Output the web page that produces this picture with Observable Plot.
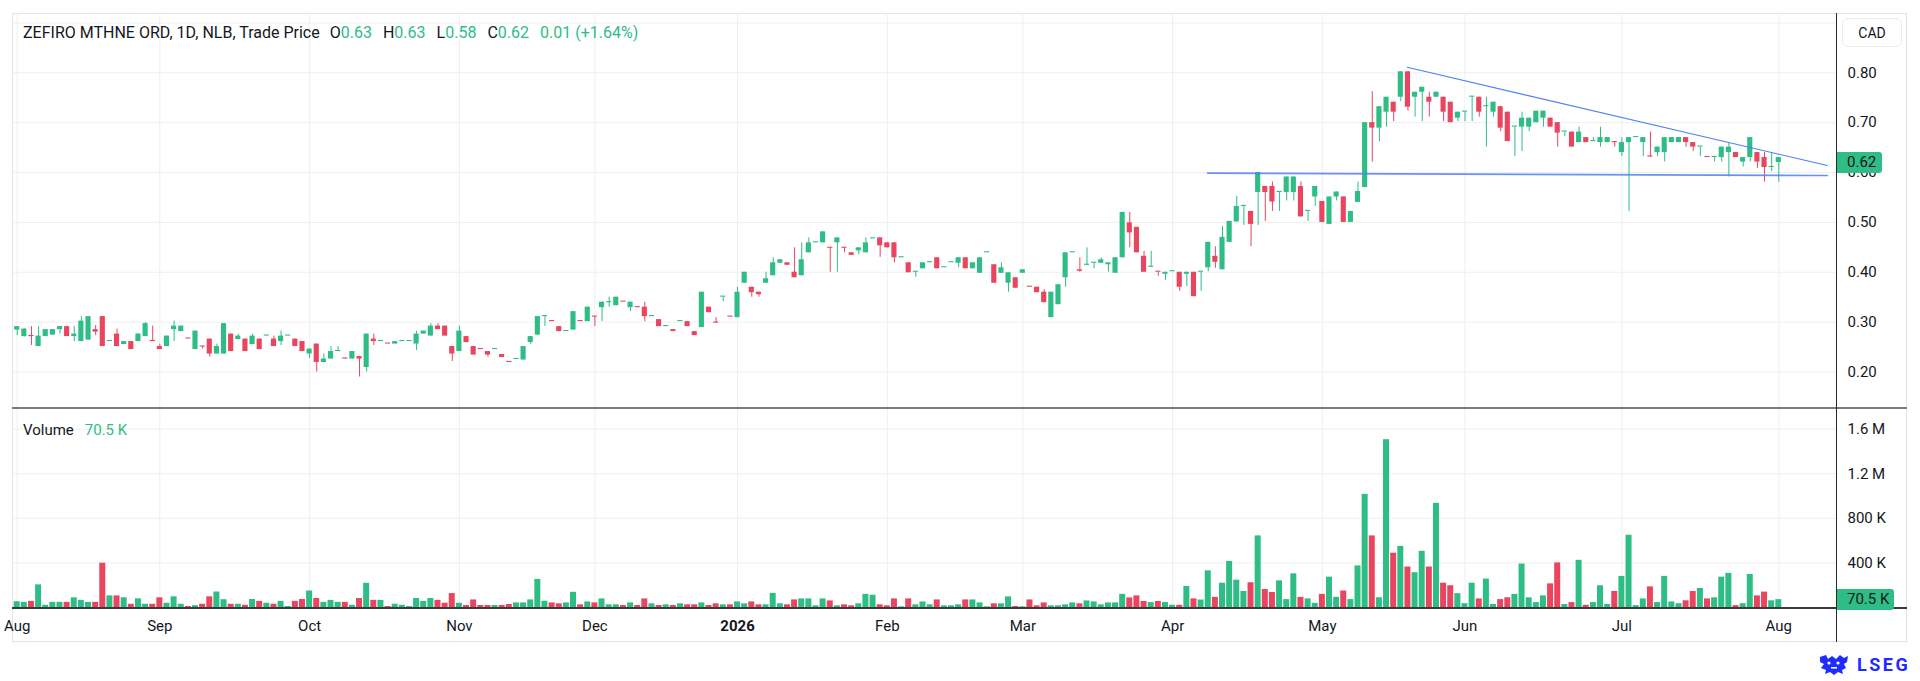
<!DOCTYPE html>
<html>
<head>
<meta charset="utf-8">
<script src="https://cdn.jsdelivr.net/npm/d3@7"></script>
<script src="https://cdn.jsdelivr.net/npm/@observablehq/plot@0.6"></script>
<style>
html,body{margin:0;padding:0;background:#fff;}
#root{position:relative;width:1920px;height:681px;overflow:hidden;font-family:Roboto,"Open Sans",sans-serif;color:#131722;}
.abs{position:absolute;}
svg{overflow:visible;}
</style>
</head>
<body>
<div id="root"></div>
<script>
// ---------------- DATA ----------------
const instrument = "ZEFIRO MTHNE ORD, 1D, NLB, Trade Price";
const currency = "CAD";
const closeBeforeFirst = 0.280;

// daily bars, Jul 31 2025 -> Jul 31 2026
const opens = [
 .291,.271,.272,.251,.271,.274,.285,.291,.271,.261,
 .264,.285,.311,.261,.276,.255,.261,.261,.271,.262,
 .251,.251,.285,.281,.266,.245,.251,.266,.236,.236,
 .276,.265,.266,.255,.266,.272,.266,.261,.272,.266,
 .261,.236,.256,.219,.226,.241,.227,.226,.231,.209,
 .266,.261,.256,.256,.261,.261,.256,.276,.272,.292,
 .292,.251,.241,.271,.234,.246,.241,.245,.235,.219,
 .225,.224,.259,.274,.311,.301,.291,.281,.284,.301,
 .301,.311,.329,.339,.333,.340,.329,.330,.330,.311,
 .305,.291,.285,.301,.301,.281,.289,.330,.299,.350,
 .310,.309,.378,.370,.360,.378,.393,.418,.419,.400,
 .393,.439,.459,.459,.449,.459,.449,.439,.443,.439,
 .467,.469,.459,.459,.429,.419,.400,.407,.419,.429,
 .409,.419,.418,.429,.407,.398,.439,.415,.409,.378,
 .389,.398,.370,.370,.360,.309,.335,.389,.439,.405,
 .414,.418,.425,.415,.398,.429,.499,.490,.432,.410,
 .400,.396,.401,.400,.396,.400,.400,.409,.432,.405,
 .460,.501,.532,.522,.560,.572,.572,.560,.560,.560,
 .572,.522,.551,.542,.496,.551,.551,.500,.540,.570,
 .700,.689,.721,.741,.751,.802,.751,.761,.751,.751,
 .751,.741,.709,.721,.751,.751,.732,.721,.732,.721,
 .691,.691,.691,.700,.709,.709,.700,.681,.681,.660,
 .670,.662,.660,.660,.660,.640,.660,.670,.660,.632,
 .640,.640,.660,.660,.670,.660,.651,.630,.630,.630,
 .640,.640,.621,.630,.640,.630,.610,.63
];
const highs = [
 .291,.287,.291,.291,.285,.285,.291,.291,.291,.311,
 .311,.293,.311,.261,.286,.261,.261,.277,.299,.292,
 .256,.272,.302,.292,.266,.282,.251,.266,.256,.297,
 .276,.276,.266,.276,.266,.272,.272,.282,.272,.266,
 .261,.246,.256,.236,.251,.251,.227,.241,.231,.276,
 .276,.261,.256,.261,.261,.261,.282,.282,.297,.297,
 .292,.251,.292,.271,.251,.246,.241,.245,.235,.219,
 .225,.251,.271,.311,.311,.301,.291,.281,.321,.301,
 .330,.311,.340,.350,.350,.340,.340,.330,.340,.311,
 .305,.291,.285,.301,.301,.281,.360,.330,.309,.350,
 .310,.370,.400,.370,.360,.400,.429,.425,.419,.449,
 .459,.469,.459,.481,.449,.469,.449,.439,.449,.469,
 .467,.469,.459,.459,.429,.419,.400,.419,.419,.429,
 .409,.419,.429,.429,.419,.429,.439,.415,.419,.399,
 .389,.405,.370,.370,.365,.360,.375,.439,.439,.429,
 .449,.418,.429,.419,.429,.520,.520,.490,.442,.442,
 .400,.400,.401,.400,.400,.400,.400,.460,.451,.492,
 .502,.552,.532,.522,.600,.572,.581,.560,.591,.591,
 .581,.522,.572,.542,.551,.561,.551,.522,.581,.700,
 .762,.732,.751,.741,.802,.802,.761,.771,.761,.761,
 .751,.741,.721,.721,.751,.751,.751,.741,.732,.721,
 .691,.721,.709,.723,.723,.709,.700,.681,.681,.691,
 .670,.670,.691,.670,.660,.670,.670,.670,.670,.681,
 .651,.670,.670,.670,.670,.660,.651,.630,.630,.651,
 .660,.640,.630,.670,.640,.640,.640,.63
];
const lows = [
 .273,.270,.253,.251,.271,.274,.276,.271,.261,.261,
 .264,.273,.251,.261,.251,.255,.245,.261,.271,.261,
 .245,.251,.261,.281,.266,.245,.246,.230,.236,.236,
 .241,.265,.241,.255,.245,.272,.251,.253,.272,.251,
 .241,.227,.200,.219,.226,.241,.226,.226,.190,.200,
 .253,.261,.256,.256,.261,.261,.243,.276,.272,.285,
 .272,.221,.241,.259,.234,.245,.230,.245,.229,.219,
 .225,.224,.255,.274,.291,.301,.281,.281,.284,.301,
 .301,.291,.301,.330,.333,.340,.321,.329,.301,.311,
 .291,.291,.281,.301,.291,.273,.289,.319,.298,.341,
 .310,.309,.378,.350,.350,.378,.393,.418,.414,.389,
 .393,.439,.459,.459,.400,.400,.439,.434,.435,.439,
 .467,.430,.449,.419,.429,.399,.390,.407,.419,.407,
 .409,.419,.409,.407,.407,.398,.439,.378,.398,.360,
 .368,.398,.370,.359,.339,.309,.335,.370,.439,.400,
 .414,.407,.418,.400,.398,.429,.449,.439,.400,.410,
 .392,.383,.401,.362,.371,.351,.362,.401,.408,.405,
 .460,.501,.494,.451,.494,.502,.522,.522,.543,.543,
 .511,.502,.532,.500,.496,.543,.500,.500,.540,.570,
 .621,.662,.691,.702,.742,.723,.711,.702,.711,.751,
 .702,.700,.702,.702,.702,.711,.651,.711,.682,.662,
 .632,.642,.682,.700,.691,.691,.651,.672,.651,.660,
 .660,.662,.651,.660,.651,.632,.522,.670,.632,.631,
 .632,.621,.660,.660,.651,.642,.632,.630,.621,.621,
 .591,.630,.611,.621,.608,.581,.602,.58
];
const closes = [
 .284,.286,.271,.272,.285,.285,.291,.271,.276,.302,
 .311,.280,.251,.261,.251,.261,.245,.276,.297,.261,
 .245,.272,.292,.292,.266,.282,.250,.236,.251,.297,
 .241,.272,.241,.272,.245,.272,.251,.272,.272,.251,
 .241,.246,.219,.226,.241,.241,.226,.241,.226,.276,
 .261,.261,.256,.261,.261,.261,.276,.282,.292,.285,
 .272,.236,.282,.259,.251,.245,.234,.245,.229,.219,
 .225,.251,.271,.311,.311,.301,.281,.281,.321,.301,
 .330,.310,.340,.340,.350,.340,.340,.329,.311,.311,
 .291,.291,.281,.301,.291,.273,.360,.319,.298,.350,
 .310,.360,.400,.359,.355,.387,.419,.425,.414,.389,
 .425,.459,.459,.481,.448,.469,.448,.434,.449,.459,
 .467,.453,.449,.429,.429,.399,.400,.419,.419,.407,
 .409,.419,.429,.407,.419,.429,.439,.378,.398,.399,
 .368,.405,.370,.359,.339,.360,.375,.439,.439,.402,
 .414,.418,.418,.419,.429,.520,.479,.439,.400,.410,
 .400,.400,.401,.370,.400,.351,.400,.460,.420,.470,
 .502,.532,.532,.496,.600,.560,.541,.560,.591,.591,
 .511,.522,.572,.500,.551,.561,.500,.522,.562,.700,
 .689,.732,.751,.721,.802,.731,.761,.771,.741,.761,
 .721,.700,.721,.721,.751,.721,.732,.741,.689,.662,
 .691,.709,.709,.723,.723,.691,.679,.681,.651,.681,
 .660,.662,.670,.670,.660,.660,.670,.670,.670,.631,
 .651,.670,.670,.670,.660,.651,.651,.630,.630,.651,
 .651,.630,.630,.670,.621,.610,.610,.62
];
// volume in thousands of shares
const volumesK = [
 52,46,55,203,20,46,46,46,87,64,
 46,46,397,104,104,87,29,78,29,29,
 87,38,96,29,9,17,29,96,139,70,
 29,29,20,72,55,38,29,55,9,55,
 72,148,81,46,64,46,46,20,81,217,
 64,64,9,29,20,9,81,55,81,64,
 38,125,38,18,68,18,18,18,18,27,
 41,41,68,252,56,41,33,41,136,24,
 50,41,77,24,24,18,41,18,77,33,
 18,24,18,33,24,24,41,18,33,24,
 24,50,33,50,24,24,127,33,24,68,
 77,77,15,77,59,15,24,15,33,118,
 110,24,15,77,6,77,24,50,24,68,
 15,15,24,68,68,41,6,33,33,95,
 9,6,68,15,41,15,15,24,41,33,
 59,50,24,41,41,118,86,104,54,44,
 54,44,20,20,188,77,67,329,91,218,
 413,245,144,222,642,161,134,239,71,302,
 91,77,37,118,272,91,148,71,373,1015,
 642,87,1505,487,548,363,312,504,363,934,
 218,195,124,34,218,77,255,27,71,87,
 118,390,87,44,104,212,400,27,44,423,
 20,44,195,27,144,279,648,17,77,185,
 44,279,50,34,60,144,171,77,87,272,
 306,17,34,296,104,138,60,70.5
];

// calendar: bars shown per month (Jul 2025 tail, Aug 2025 ... Jul 2026)
const barsPerMonth = [1,20,21,21,19,20,21,19,21,21,20,22,22];
const monthLabels  = ["Aug","Sep","Oct","Nov","Dec","2026","Feb","Mar","Apr","May","Jun","Jul","Aug"];

const priceTicks = [0.20,0.30,0.40,0.50,0.60,0.70,0.80];
const priceGrid  = [0.20,0.30,0.40,0.50,0.60,0.70,0.80,0.90];
const volumeTicks = [400000,800000,1200000,1600000];
const volumeTickLabels = ["400 K","800 K","1.2 M","1.6 M"];

// drawn trend lines: [bar index, price]
const trendUpper = [[194.9,0.811],[253.8,0.614]];
const trendLower = [[166.9,0.599],[253.8,0.594]];

// ---------------- BUILD ----------------
const UP = "#2ebd85", DOWN = "#e9455e", LINE = "#4f7ff2";
const bars = opens.map((o,i)=>{
  const c = closes[i];
  const prev = i === 0 ? closeBeforeFirst : closes[i-1];
  return {i, o, h: highs[i], l: lows[i], c, v: volumesK[i]*1000, col: c >= prev ? UP : DOWN};
});
const monthIdx = [];
barsPerMonth.reduce((acc,n)=>{ const s = acc + n; monthIdx.push(s); return s; }, -1);
const monthTicks = monthLabels.map((label,k)=>({idx: monthIdx[k], label}));
const yearTicks = monthTicks.filter(t=>/^\d+$/.test(t.label));
const plainTicks = monthTicks.filter(t=>!/^\d+$/.test(t.label));

const X_DOMAIN = [-0.659, 255.23];
const FONT = "Roboto, 'Open Sans', sans-serif";
const root = document.getElementById("root");

function div(style, html){
  const d = document.createElement("div");
  d.className = "abs";
  Object.assign(d.style, style);
  if (html !== undefined) d.innerHTML = html;
  root.appendChild(d);
  return d;
}

// frame
div({left:"12px", top:"13px", width:"1895px", height:"629px", border:"1px solid #e4e4e4", boxSizing:"border-box"});

// price pane
const priceTop = 13, priceH = 395;
const price = Plot.plot({
  width:1920, height:priceH,
  marginLeft:12, marginRight:83, marginTop:0, marginBottom:0,
  x:{domain:X_DOMAIN, axis:null},
  y:{domain:[0.1268,0.9189], axis:null},
  color:{type:"identity"},
  style:{background:"transparent", fontFamily:FONT, fontSize:"15px", color:"#131722", overflow:"visible"},
  marks:[
    Plot.gridY(priceGrid, {stroke:"#efefef", strokeOpacity:1}),
    Plot.gridX(monthIdx, {stroke:"#efefef", strokeOpacity:1}),
    Plot.ruleX(bars, {x:"i", y1:"l", y2:"h", stroke:"col", strokeWidth:1}),
    Plot.rect(bars, {
      x1: d=>d.i-0.36, x2: d=>d.i+0.36,
      y1: d=>Math.min(d.o,d.c),
      y2: d=>Math.max(Math.max(d.o,d.c), Math.min(d.o,d.c)+0.0022),
      fill:"col"
    }),
    Plot.line(trendLower, {x:d=>d[0], y:d=>d[1], stroke:LINE, strokeWidth:1.7, strokeOpacity:0.85}),
    Plot.line(trendUpper, {x:d=>d[0], y:d=>d[1], stroke:LINE, strokeWidth:1.1}),
    Plot.axisY(priceTicks, {anchor:"right", label:null, tickSize:0, tickPadding:10, fontSize:15, tickFormat:d=>d.toFixed(2)})
  ]
});
const pw = div({left:"0px", top:priceTop+"px"});
pw.appendChild(price);

// volume pane
const volTop = 409, volH = 233, volBottom = 35;
const volMax = (volH - volBottom) / 44.6 * 400000;
const volume = Plot.plot({
  width:1920, height:volH,
  marginLeft:12, marginRight:83, marginTop:0, marginBottom:volBottom,
  x:{domain:X_DOMAIN, axis:null},
  y:{domain:[0, volMax], axis:null},
  color:{type:"identity"},
  style:{background:"transparent", fontFamily:FONT, fontSize:"15px", color:"#131722", overflow:"visible"},
  marks:[
    Plot.gridY(volumeTicks, {stroke:"#efefef", strokeOpacity:1}),
    Plot.gridX(monthIdx, {stroke:"#efefef", strokeOpacity:1}),
    Plot.rectY(bars, {x1:d=>d.i-0.42, x2:d=>d.i+0.42, y:"v", fill:"col"}),
    Plot.axisY(volumeTicks, {anchor:"right", label:null, tickSize:0, tickPadding:10, fontSize:15,
      tickFormat:d=>volumeTickLabels[volumeTicks.indexOf(d)]}),
    Plot.axisX(plainTicks.map(t=>t.idx), {anchor:"bottom", label:null, tickSize:0, tickPadding:13, fontSize:15,
      tickFormat:d=>plainTicks.find(t=>t.idx===d).label}),
    Plot.axisX(yearTicks.map(t=>t.idx), {anchor:"bottom", label:null, tickSize:0, tickPadding:13, fontSize:15, fontWeight:"bold",
      tickFormat:d=>yearTicks.find(t=>t.idx===d).label})
  ]
});
const vw = div({left:"0px", top:volTop+"px"});
vw.appendChild(volume);

// chrome lines
div({left:"12px", top:"407px", width:"1895px", height:"2px", background:"#7b7b7b"});
div({left:"12px", top:(volTop+volH-volBottom)+"px", width:"1895px", height:"1.5px", background:"#3a3a3a"});
div({left:"1836px", top:"13px", width:"1px", height:"629px", background:"#2b2b2b"});

// currency box
div({left:"1842px", top:"18px", width:"60px", height:"29px", border:"1px solid #ececec", borderRadius:"6px",
     boxSizing:"border-box", font:"14px "+FONT, color:"#131722", display:"flex", alignItems:"center", justifyContent:"center"}, currency);

// header legend
const last = bars[bars.length-1];
const prevClose = bars[bars.length-2].c;
const chg = last.c - prevClose;
const pct = chg / prevClose * 100;
const g = s => `<span style="color:${UP}">${s}</span>`;
div({left:"23px", top:"24px", font:"16px "+FONT, color:"#131722", whiteSpace:"nowrap", lineHeight:"18px"},
  `${instrument}<span style="margin-left:10px">O</span>${g(last.o.toFixed(2))}`+
  `<span style="margin-left:11px">H</span>${g(last.h.toFixed(2))}`+
  `<span style="margin-left:11px">L</span>${g(last.l.toFixed(2))}`+
  `<span style="margin-left:11px">C</span>${g(last.c.toFixed(2))}`+
  `<span style="margin-left:11px">${g(chg.toFixed(2)+" (+"+pct.toFixed(2)+"%)")}</span>`);

// volume legend
div({left:"23px", top:"421px", font:"15px "+FONT, color:"#131722", whiteSpace:"nowrap", lineHeight:"18px"},
  `Volume<span style="margin-left:11px;color:${UP}">${(last.v/1000).toFixed(1)} K</span>`);

// last value badges
const yLast = priceTop + price.scale("y").apply(last.c);
div({left:"1837px", top:(yLast-10.5)+"px", width:"45px", height:"21px", background:UP, borderRadius:"0 3px 3px 0",
     font:"15px "+FONT, color:"#131722", display:"flex", alignItems:"center", paddingLeft:"10px", boxSizing:"border-box"},
  last.c.toFixed(2));
const yVol = volTop + volume.scale("y").apply(last.v);
div({left:"1837px", top:(yVol-10.5)+"px", width:"57px", height:"21px", background:UP, borderRadius:"0 3px 3px 0",
     font:"15px "+FONT, color:"#131722", display:"flex", alignItems:"center", paddingLeft:"10px", boxSizing:"border-box"},
  (last.v/1000).toFixed(1)+" K");

// LSEG mark
div({left:"1818px", top:"654px", width:"32px", height:"22px"},
  `<svg width="32" height="22" viewBox="0 0 32 22"><g fill="#1f2bff">
   <path d="M2 3 L8 1 L10 5 L14 2 L18 5 L22 1 L26 4 L30 2 L29 8 L26 10 L28 14 L24 16 L25 20 L20 18 L16 21 L12 18 L7 20 L8 16 L3 14 L6 10 L2 8 Z"/>
   </g><g fill="#fff"><circle cx="11" cy="9" r="1.6"/><circle cx="20" cy="9" r="1.6"/><rect x="13" y="13" width="6" height="1.6"/></g></svg>`);
div({left:"1857px", top:"654px", font:"bold 18px "+FONT, color:"#1f2bff", letterSpacing:"2.5px", lineHeight:"22px"}, "LSEG");
</script>
</body>
</html>
